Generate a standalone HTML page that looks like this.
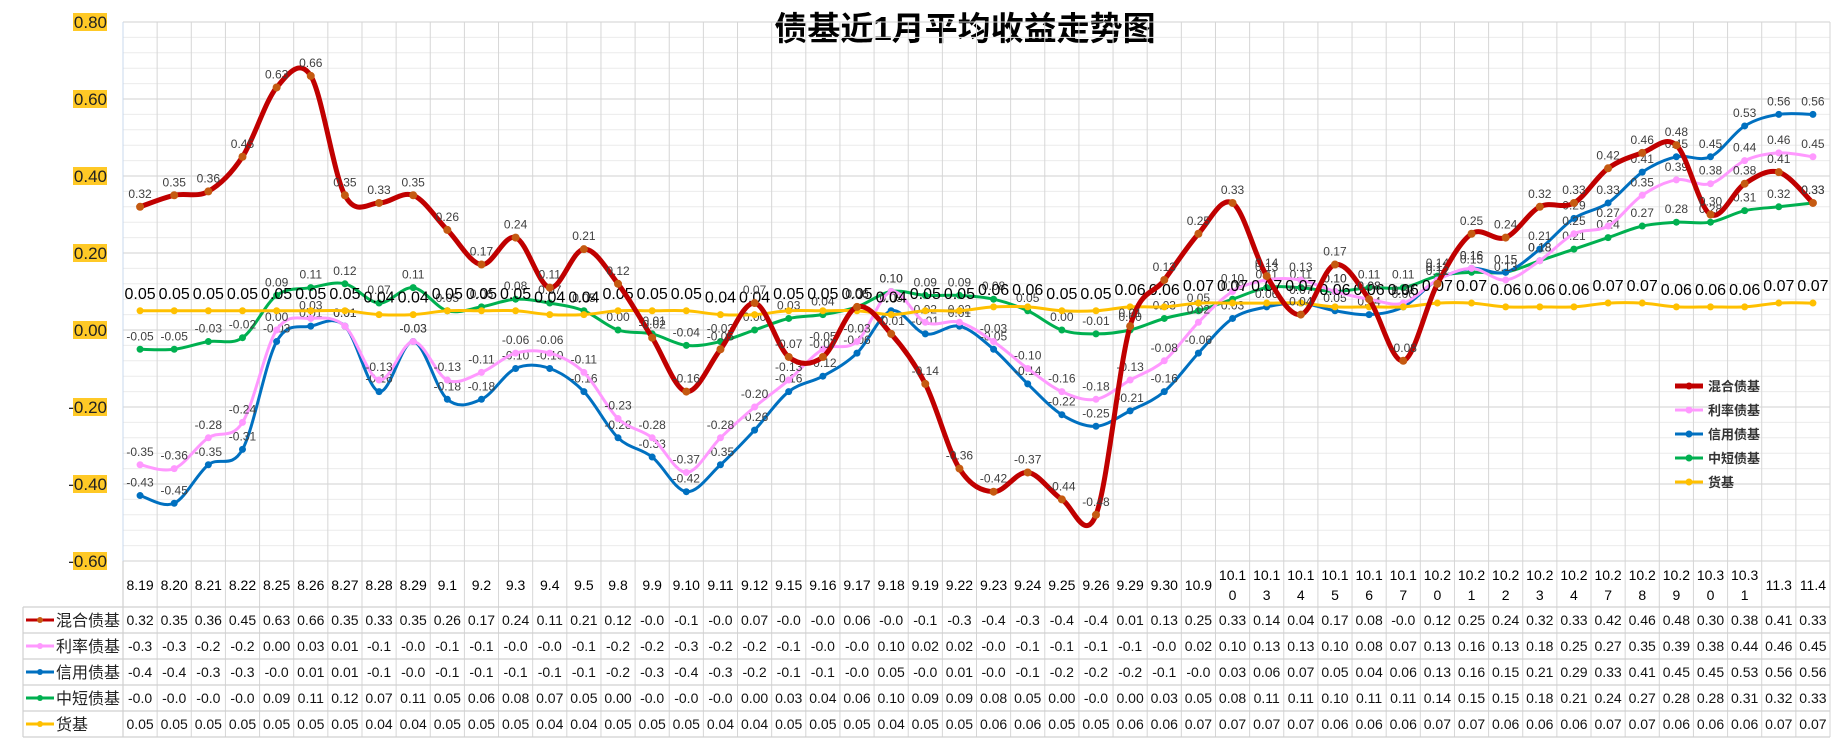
<!DOCTYPE html>
<html><head><meta charset="utf-8">
<style>
html,body{margin:0;padding:0;background:#fff;}
svg{display:block;font-family:"Liberation Sans","Noto Sans CJK SC",sans-serif;}
</style></head>
<body>
<svg id="chart" width="1834" height="744" viewBox="0 0 1834 744"></svg>
<script>
const categories=["8.19","8.20","8.21","8.22","8.25","8.26","8.27","8.28","8.29","9.1","9.2","9.3","9.4","9.5","9.8","9.9","9.10","9.11","9.12","9.15","9.16","9.17","9.18","9.19","9.22","9.23","9.24","9.25","9.26","9.29","9.30","10.9","10.10","10.13","10.14","10.15","10.16","10.17","10.20","10.21","10.22","10.23","10.24","10.27","10.28","10.29","10.30","10.31","11.3","11.4"];
const seriesNames=["混合债基","利率债基","信用债基","中短债基","货基"];
const hunhe=[0.32,0.35,0.36,0.45,0.63,0.66,0.35,0.33,0.35,0.26,0.17,0.24,0.11,0.21,0.12,-0.02,-0.16,-0.05,0.07,-0.07,-0.07,0.06,-0.01,-0.14,-0.36,-0.42,-0.37,-0.44,-0.48,0.01,0.13,0.25,0.33,0.14,0.04,0.17,0.08,-0.08,0.12,0.25,0.24,0.32,0.33,0.42,0.46,0.48,0.30,0.38,0.41,0.33];
const lilv=[-0.35,-0.36,-0.28,-0.24,0.00,0.03,0.01,-0.13,-0.03,-0.13,-0.11,-0.06,-0.06,-0.11,-0.23,-0.28,-0.37,-0.28,-0.20,-0.13,-0.05,-0.03,0.10,0.02,0.02,-0.03,-0.10,-0.16,-0.18,-0.13,-0.08,0.02,0.10,0.13,0.13,0.10,0.08,0.07,0.13,0.16,0.13,0.18,0.25,0.27,0.35,0.39,0.38,0.44,0.46,0.45];
const xinyong=[-0.43,-0.45,-0.35,-0.31,-0.03,0.01,0.01,-0.16,-0.03,-0.18,-0.18,-0.10,-0.10,-0.16,-0.28,-0.33,-0.42,-0.35,-0.26,-0.16,-0.12,-0.06,0.05,-0.01,0.01,-0.05,-0.14,-0.22,-0.25,-0.21,-0.16,-0.06,0.03,0.06,0.07,0.05,0.04,0.06,0.13,0.16,0.15,0.21,0.29,0.33,0.41,0.45,0.45,0.53,0.56,0.56];
const zhongduan=[-0.05,-0.05,-0.03,-0.02,0.09,0.11,0.12,0.07,0.11,0.05,0.06,0.08,0.07,0.05,0.00,-0.01,-0.04,-0.03,0.00,0.03,0.04,0.06,0.10,0.09,0.09,0.08,0.05,0.00,-0.01,0.00,0.03,0.05,0.08,0.11,0.11,0.10,0.11,0.11,0.14,0.15,0.15,0.18,0.21,0.24,0.27,0.28,0.28,0.31,0.32,0.33];
const huoji=[0.05,0.05,0.05,0.05,0.05,0.05,0.05,0.04,0.04,0.05,0.05,0.05,0.04,0.04,0.05,0.05,0.05,0.04,0.04,0.05,0.05,0.05,0.04,0.05,0.05,0.06,0.06,0.05,0.05,0.06,0.06,0.07,0.07,0.07,0.07,0.06,0.06,0.06,0.07,0.07,0.06,0.06,0.06,0.07,0.07,0.06,0.06,0.06,0.07,0.07];
const yTicks=[0.8,0.6,0.4,0.2,0,-0.2,-0.4,-0.6];

const svg=document.getElementById('chart');
const NS='http://www.w3.org/2000/svg';
const L=123,R=1830,T=22,B=561,yMax=0.8,yMin=-0.6;
const cw=(R-L)/categories.length;
function xs(i){return L+cw*(i+0.5);}
function ys(v){return T+(yMax-v)/(yMax-yMin)*(B-T);}
function mk(tag,attrs,parent){const e=document.createElementNS(NS,tag);for(const k in attrs)e.setAttribute(k,attrs[k]);(parent||svg).appendChild(e);return e;}
function txt(s,attrs,parent){const e=mk('text',attrs,parent);e.textContent=s;return e;}

// title
const title=txt('债基近1月平均收益走势图',{x:965,y:40,'text-anchor':'middle','font-size':33,'font-weight':'bold',fill:'#000'});



// grid
const grid=mk('g',{});


for(let v=-0.6;v<=0.8001;v+=0.04){
  const y=ys(v);const major=Math.abs(Math.round(v*100)%20)===0;
  mk('line',{x1:L,x2:R,y1:y,y2:y,stroke:major?'#d0d0d0':'#ececec','stroke-width':1},grid);
}
const tableTop=607,rowH=26,tableLeft=23;
for(let i=0;i<=categories.length;i++){
  const x=L+cw*i;
  mk('line',{x1:x,x2:x,y1:T,y2:tableTop+rowH*5,stroke:'#d6d6d6','stroke-width':1},grid);
}
mk('line',{x1:L,x2:L,y1:T,y2:B,stroke:'#c8d8ec','stroke-width':1},grid);

// y ticks
yTicks.forEach(v=>{
  const g=mk('g',{});
  
  
  const y=ys(v);
  mk('rect',{x:73,y:y-9,width:34,height:18,fill:'#ffc000',opacity:0.85},g);
  txt(v.toFixed(2),{x:107,y:y+6,'text-anchor':'end','font-size':17,fill:'#222'},g);
});

// x labels
categories.forEach((c,i)=>{
  const g=mk('g',{});
  
  
  if(c.length>4){
    txt(c.slice(0,4),{x:xs(i),y:580,'text-anchor':'middle','font-size':14},g);
    txt(c.slice(4),{x:xs(i),y:600,'text-anchor':'middle','font-size':14},g);
  }else txt(c,{x:xs(i),y:590,'text-anchor':'middle','font-size':14},g);
});

function smoothPath(vals){
  const p=vals.map((v,i)=>[xs(i),ys(v)]);
  let d='M'+p[0][0]+','+p[0][1];
  for(let i=0;i<p.length-1;i++){
    const p0=p[i-1]||p[i],p1=p[i],p2=p[i+1],p3=p[i+2]||p2;
    const c1=[p1[0]+(p2[0]-p0[0])/6,p1[1]+(p2[1]-p0[1])/6];
    const c2=[p2[0]-(p3[0]-p1[0])/6,p2[1]-(p3[1]-p1[1])/6];
    d+=' C'+c1[0].toFixed(1)+','+c1[1].toFixed(1)+' '+c2[0].toFixed(1)+','+c2[1].toFixed(1)+' '+p2[0].toFixed(1)+','+p2[1].toFixed(1);
  }
  return d;
}
const allSeries=[
 {vals:zhongduan,color:'#00b050',w:3,name:'series-zhongduan',lab:'#404040',fs:12},
 {vals:xinyong,color:'#0070c0',w:3,name:'series-xinyong',lab:'#404040',fs:12},
 {vals:lilv,color:'#ff99ff',w:3,name:'series-lilv',lab:'#404040',fs:12},
 {vals:huoji,color:'#ffc000',w:3,name:'series-huoji',lab:'#000',fs:16},
 {vals:hunhe,color:'#c00000',w:5,name:'series-hunhe',lab:'#404040',fs:12}
];
allSeries.forEach(s=>{
  const g=mk('g',{});
  
  
  mk('path',{d:smoothPath(s.vals),fill:'none',stroke:s.color,'stroke-width':s.w,'stroke-linecap':'round'},g);
  s.vals.forEach((v,i)=>{
    const c=mk('circle',{cx:xs(i),cy:ys(v),r:s.w>4?4:3.5,fill:s.w>4?'#c55a11':s.color},g);
    
    
    const t=txt(v.toFixed(2),{x:xs(i),y:ys(v)-(s.fs>12?12:9),'text-anchor':'middle','font-size':s.fs,fill:s.lab},g);
    
    
  });
});

// legend in plot
const legOrder=[['混合债基','#c00000',5],['利率债基','#ff99ff',3],['信用债基','#0070c0',3],['中短债基','#00b050',3],['货基','#ffc000',3]];
const leg=mk('g',{});


legOrder.forEach((e,k)=>{
  const g=mk('g',{},leg);
  
  
  const y=386+k*24;
  mk('line',{x1:1675,x2:1703,y1:y,y2:y,stroke:e[1],'stroke-width':e[2]},g);
  mk('circle',{cx:1689,cy:y,r:3.5,fill:e[1]},g);
  txt(e[0],{x:1708,y:y+5,'font-size':13,'font-weight':'bold',fill:'#333'},g);
});

// data table
const tbl=mk('g',{});


const tSeries=[hunhe,lilv,xinyong,zhongduan,huoji];
for(let r=0;r<=5;r++){
  const y=tableTop+rowH*r;
  mk('line',{x1:tableLeft,x2:R,y1:y,y2:y,stroke:'#d0d0d0','stroke-width':1.2},tbl);
}
mk('line',{x1:tableLeft,x2:tableLeft,y1:tableTop,y2:tableTop+rowH*5,stroke:'#d0d0d0','stroke-width':1.2},tbl);
mk('line',{x1:L,x2:L,y1:B,y2:tableTop+rowH*5,stroke:'#d0d0d0','stroke-width':1.2},tbl);
tSeries.forEach((vals,r)=>{
  const yc=tableTop+rowH*r+rowH/2;
  const row=mk('g',{},tbl);
  
  
  const col=legOrder[r][1];
  mk('line',{x1:26,x2:54,y1:yc,y2:yc,stroke:col,'stroke-width':3},row);
  mk('circle',{cx:40,cy:yc,r:3,fill:r===0?'#c55a11':col},row);
  txt(seriesNames[r],{x:56,y:yc+6,'font-size':16,fill:'#222'},row);
  vals.forEach((v,i)=>{
    txt(v.toFixed(2).slice(0,4),{x:xs(i),y:yc+5,'text-anchor':'middle','font-size':14,fill:'#111'},row);
  });
});
</script>
</body></html>
